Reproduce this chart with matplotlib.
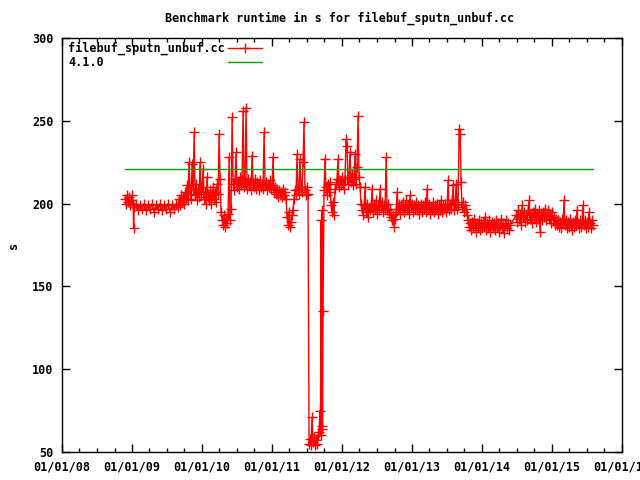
import datetime as dt
import matplotlib
matplotlib.use("Agg")
import matplotlib.pyplot as plt
import matplotlib.dates as mdates
from matplotlib.lines import Line2D

title = "Benchmark runtime in s for filebuf_sputn_unbuf.cc"
series_label = "filebuf_sputn_unbuf.cc"
baseline_label = "4.1.0"
y_label = "s"

# run dates (decimal years) and runtime in s
run_years = [
    2008.900, 2008.914, 2008.929, 2008.943, 2008.957, 2008.971, 2008.986, 2009.000, 2009.014, 2009.021,
    2009.029, 2009.057, 2009.086, 2009.114, 2009.143, 2009.171, 2009.200, 2009.229, 2009.257, 2009.286,
    2009.314, 2009.343, 2009.371, 2009.400, 2009.429, 2009.457, 2009.486, 2009.514, 2009.543, 2009.571,
    2009.600, 2009.629, 2009.657,
    2009.671, 2009.686, 2009.700, 2009.714, 2009.729, 2009.743, 2009.757, 2009.771, 2009.786, 2009.800,
    2009.814, 2009.829, 2009.843, 2009.857, 2009.871, 2009.886, 2009.900, 2009.914, 2009.929, 2009.943,
    2009.957, 2009.971, 2009.986, 2010.000, 2010.014, 2010.029, 2010.043, 2010.057, 2010.071, 2010.086,
    2010.100, 2010.114, 2010.129, 2010.143, 2010.157, 2010.171, 2010.186, 2010.200, 2010.214, 2010.229,
    2010.243, 2010.257, 2010.271, 2010.286, 2010.300, 2010.314, 2010.329, 2010.343, 2010.357, 2010.371,
    2010.386, 2010.400, 2010.414,
    2010.429, 2010.443, 2010.457, 2010.471, 2010.486, 2010.500, 2010.514, 2010.529, 2010.543, 2010.557,
    2010.571, 2010.586, 2010.600, 2010.614, 2010.629, 2010.643, 2010.657, 2010.671, 2010.686, 2010.700,
    2010.714, 2010.729, 2010.743, 2010.757, 2010.771, 2010.786, 2010.800, 2010.814, 2010.829, 2010.843,
    2010.857, 2010.871, 2010.886, 2010.900, 2010.914, 2010.929, 2010.943, 2010.957, 2010.971, 2010.986,
    2011.000, 2011.014, 2011.029, 2011.043,
    2011.057, 2011.071, 2011.086, 2011.100, 2011.114, 2011.129, 2011.143, 2011.157, 2011.171, 2011.186,
    2011.200, 2011.214, 2011.229, 2011.243, 2011.257, 2011.271, 2011.286, 2011.300,
    2011.314, 2011.329, 2011.343, 2011.357, 2011.371, 2011.386, 2011.400, 2011.414, 2011.429, 2011.443,
    2011.457, 2011.471, 2011.486, 2011.500, 2011.514,
    2011.529, 2011.543, 2011.557, 2011.571, 2011.586, 2011.600, 2011.614, 2011.629, 2011.643, 2011.657,
    2011.671, 2011.686, 2011.693, 2011.700, 2011.707, 2011.714, 2011.721, 2011.729,
    2011.743, 2011.757, 2011.771, 2011.786, 2011.800, 2011.814, 2011.829, 2011.843, 2011.857, 2011.871,
    2011.886, 2011.900,
    2011.914, 2011.929, 2011.943, 2011.957, 2011.971, 2011.986, 2012.000, 2012.014, 2012.029, 2012.043,
    2012.057, 2012.071, 2012.086, 2012.100, 2012.114, 2012.129, 2012.143, 2012.157, 2012.171, 2012.186,
    2012.200, 2012.214, 2012.229, 2012.243, 2012.257,
    2012.271, 2012.286, 2012.300, 2012.314, 2012.329, 2012.343, 2012.357, 2012.371, 2012.386, 2012.400,
    2012.414, 2012.429, 2012.443, 2012.457, 2012.471, 2012.486, 2012.500, 2012.514, 2012.529, 2012.543,
    2012.557, 2012.571, 2012.586, 2012.600, 2012.614, 2012.629, 2012.643, 2012.657, 2012.671, 2012.686,
    2012.700, 2012.714, 2012.729, 2012.743, 2012.757, 2012.771, 2012.786, 2012.800, 2012.814, 2012.829,
    2012.843, 2012.857, 2012.871, 2012.886, 2012.900, 2012.914, 2012.929, 2012.943, 2012.957, 2012.971,
    2012.986, 2013.000, 2013.014, 2013.029, 2013.043, 2013.057, 2013.071, 2013.086, 2013.100, 2013.114,
    2013.129, 2013.143, 2013.157, 2013.171, 2013.186, 2013.200, 2013.214, 2013.229, 2013.243, 2013.257,
    2013.271, 2013.286, 2013.300, 2013.314, 2013.329, 2013.343, 2013.357, 2013.371, 2013.386, 2013.400,
    2013.414, 2013.429, 2013.443, 2013.457, 2013.471, 2013.486, 2013.500, 2013.514, 2013.529, 2013.543,
    2013.557, 2013.571, 2013.586, 2013.600, 2013.614, 2013.629, 2013.643, 2013.657, 2013.671, 2013.686,
    2013.700, 2013.714, 2013.729, 2013.743, 2013.757, 2013.771, 2013.786,
    2013.800, 2013.814, 2013.829, 2013.843, 2013.857, 2013.871, 2013.886, 2013.900, 2013.914, 2013.929,
    2013.943, 2013.957, 2013.971, 2013.986, 2014.000, 2014.014, 2014.029, 2014.043, 2014.057, 2014.071,
    2014.086, 2014.100, 2014.114, 2014.129, 2014.143, 2014.157, 2014.171, 2014.186, 2014.200, 2014.214,
    2014.229, 2014.243, 2014.257, 2014.271, 2014.286, 2014.300, 2014.314, 2014.329, 2014.343, 2014.357,
    2014.371, 2014.386, 2014.400,
    2014.486, 2014.500, 2014.514, 2014.529, 2014.543, 2014.557, 2014.571, 2014.586, 2014.600, 2014.614,
    2014.629, 2014.643, 2014.657, 2014.671, 2014.686, 2014.700, 2014.714, 2014.729, 2014.743, 2014.757,
    2014.771, 2014.786, 2014.800, 2014.814, 2014.829, 2014.843, 2014.857, 2014.871, 2014.886, 2014.900,
    2014.914, 2014.929, 2014.943, 2014.957, 2014.971, 2014.986, 2015.000, 2015.014, 2015.029, 2015.043,
    2015.057, 2015.071, 2015.086, 2015.100, 2015.114, 2015.129, 2015.143, 2015.157, 2015.171, 2015.186,
    2015.200, 2015.214, 2015.229, 2015.243, 2015.257, 2015.271, 2015.286, 2015.300, 2015.314, 2015.329,
    2015.343, 2015.357, 2015.371, 2015.386, 2015.400, 2015.414, 2015.429, 2015.443, 2015.457, 2015.471,
    2015.486, 2015.500, 2015.514, 2015.529, 2015.543, 2015.557, 2015.571, 2015.586,
]

runtime_s = [
    203, 200, 205, 201, 204, 199, 202, 205, 200, 185,
    198, 200, 196, 199, 197, 200, 196, 199, 197, 200,
    195, 199, 197, 200, 196, 199, 197, 200, 195, 199,
    197, 200, 198,
    203, 199, 205, 201, 204, 200, 207, 203, 211, 202,
    225, 206, 203, 224, 208, 243, 205, 212, 202, 209,
    204, 225, 206, 210, 221, 203, 207, 200, 216, 204,
    202, 208, 200, 205, 210, 203, 207, 201, 212, 206,
    242, 215, 195, 190, 187, 193, 186, 191, 188, 194,
    228, 190, 197,
    252, 212, 208, 215, 231, 210, 213, 209, 216, 211,
    214, 256, 210, 213, 258, 209, 215, 211, 213, 208,
    229, 212, 210, 215, 209, 213, 211, 208, 214, 210,
    212, 209, 243, 211, 213, 208, 212, 210, 214, 209,
    211, 228, 207, 210,
    206, 209, 204, 208, 205, 207, 204, 209, 205, 207,
    203, 192, 187, 195, 186, 189, 193, 196,
    203, 208, 205, 230, 209, 206, 227, 210, 207, 225,
    249, 208, 205, 210, 206,
    55, 58, 54, 71, 56, 59, 54, 57, 55, 60,
    62, 75, 60, 190, 64, 196, 66, 135,
    208, 227, 210, 205, 212, 207, 213, 199, 195, 201,
    193, 209,
    212, 215, 227, 210, 214, 211, 216, 212, 209, 215,
    239, 235, 212, 216, 231, 213, 218, 211, 215, 230,
    212, 222, 253, 216, 210,
    200, 196, 193, 199, 210, 195, 200, 192, 198, 196,
    198, 209, 195, 200, 197, 202, 194, 199, 196, 209,
    198, 201, 195, 199, 197, 228, 196, 200, 194, 197,
    192, 190, 193, 186, 191, 195, 207, 197, 200, 194,
    199, 196, 201, 195, 198, 202, 196, 199, 194, 205,
    198, 200, 195, 199, 197, 201, 196, 199, 194, 198,
    200, 195, 199, 197, 201, 195, 209, 197, 200, 194,
    198, 196, 201, 195, 199, 197, 200, 194, 199, 196,
    202, 195, 199, 197, 200, 195, 198, 214, 196, 200,
    197, 202, 211, 196, 199, 212, 197, 200, 245, 242,
    213, 198, 201, 195, 199, 197, 193,
    190, 186, 188, 184, 189, 185, 191, 187, 183, 188,
    186, 190, 184, 188, 185, 189, 186, 192, 184, 188,
    186, 190, 183, 187, 189, 185, 188, 184, 190, 186,
    188, 183, 187, 191, 185, 188, 182, 187, 190, 185,
    188, 184, 187,
    193, 189, 196, 191, 194, 187, 199, 192, 195, 189,
    193, 190, 196, 202, 191, 194, 188, 195, 192, 197,
    189, 194, 191, 196, 183, 193, 190, 195, 192, 197,
    190, 194, 196, 191, 193, 188, 195, 190, 192, 187,
    191, 187, 190, 186, 189, 185, 191, 188, 202, 187,
    190, 185, 189, 186, 191, 187, 184, 189, 186, 190,
    187, 196, 188, 185, 190, 186, 189, 199, 187, 190,
    185, 189, 186, 195, 188, 185, 190, 187,
]

baseline_years = [2008.900, 2015.586]
baseline_s = [221, 221]

y_ticks = [50, 100, 150, 200, 250, 300]
x_tick_years = [2008, 2009, 2010, 2011, 2012, 2013, 2014, 2015, 2016]


def year_to_date(y):
    yi = int(y)
    start = dt.datetime(yi, 1, 1)
    end = dt.datetime(yi + 1, 1, 1)
    return start + (end - start) * (y - yi)


run_dates = [year_to_date(y) for y in run_years]
baseline_dates = [year_to_date(y) for y in baseline_years]

FONT = dict(family="DejaVu Sans Mono", weight="bold", size=8.5)
RED = "#ff0000"
GREEN = "#00a000"

fig = plt.figure(figsize=(6.4, 4.8), dpi=100)
ax = fig.add_axes([62 / 640, 28 / 480, 560 / 640, 414 / 480])

ax.plot(run_dates, runtime_s, color=RED, lw=1.0, marker="+", ms=7,
        mew=1.0, zorder=2)
ax.plot(baseline_dates, baseline_s, color=GREEN, lw=1.0, zorder=3)

ax.set_xlim(dt.datetime(2008, 1, 1), dt.datetime(2016, 1, 1))
ax.set_ylim(50, 300)
ax.set_yticks(y_ticks)
ax.set_xticks([dt.datetime(y, 1, 1) for y in x_tick_years])
ax.xaxis.set_major_formatter(mdates.DateFormatter("%m/%d/%y"))
ax.xaxis.set_minor_locator(mdates.MonthLocator(bymonth=[4, 7, 10]))

ax.tick_params(axis="both", which="major", direction="in", length=6,
               width=1, top=True, right=True, pad=6)
ax.tick_params(axis="both", which="minor", direction="in", length=3,
               width=1, top=True, right=True)
for lab in ax.get_xticklabels() + ax.get_yticklabels():
    lab.set_fontfamily(FONT["family"])
    lab.set_fontweight(FONT["weight"])
    lab.set_fontsize(FONT["size"])
for sp in ax.spines.values():
    sp.set_linewidth(1.0)
    sp.set_color("black")

fig.text(340 / 640, 1 - 18 / 480, title, ha="center", va="center", **FONT)
fig.text(14 / 640, 1 - 245 / 480, y_label, ha="center", va="center",
         rotation=90, **FONT)

# key (top-left, gnuplot style: text then sample)
ax.text(0.0107, 0.976, series_label, transform=ax.transAxes, ha="left",
        va="center", **FONT)
ax.text(0.0107, 0.942, baseline_label, transform=ax.transAxes, ha="left",
        va="center", **FONT)
ax.add_line(Line2D([0.296, 0.357], [0.976, 0.976], transform=ax.transAxes,
                   color=RED, lw=1.0))
ax.add_line(Line2D([0.3265], [0.976], transform=ax.transAxes, color=RED,
                   marker="+", ms=7, mew=1.0, lw=0))
ax.add_line(Line2D([0.296, 0.357], [0.942, 0.942], transform=ax.transAxes,
                   color=GREEN, lw=1.0))

fig.savefig("out.png", dpi=100)
